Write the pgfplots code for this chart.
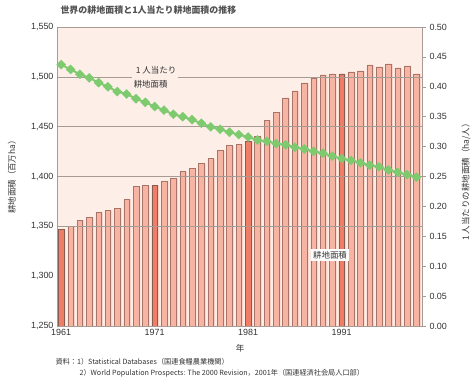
\documentclass[border=0pt]{standalone}
\usepackage{fontspec}
\setmainfont{Liberation Sans}
\newfontfamily\jp{Noto Sans CJK JP}
\usepackage{pgfplots}
\pgfplotsset{compat=1.18}
\definecolor{bgpink}{HTML}{FDEEE8}
\definecolor{barlight}{HTML}{F8B4A2}
\definecolor{barshadow}{HTML}{FAD3C8}
\definecolor{bardark}{HTML}{F07E66}
\definecolor{baredge}{HTML}{A87468}
\definecolor{gridc}{HTML}{A89A94}
\definecolor{linegreen}{HTML}{7DCB6E}
\definecolor{txt}{HTML}{333333}

\begin{document}
\begin{tikzpicture}
\path[use as bounding box] (0,0) rectangle (476bp,382bp);
\begin{axis}[
  at={(57bp,56bp)}, anchor=south west,
  scale only axis, width=365bp, height=299bp,
  xmin=1960.55, xmax=1999.6, ymin=1250, ymax=1550,
  axis background/.style={fill=bgpink},
  axis line style={gridc, line width=0.6pt},
  xtick={1961,1971,1981,1991},
  minor xtick={1962,1963,...,1999},
  xtick pos=bottom, ytick pos=left,
  tick align=inside,
  major tick length=4bp, minor tick length=3bp,
  every tick/.style={gridc},
  ytick={1250,1300,1350,1400,1450,1500,1550},
  ytick style={draw=none},
  /pgf/number format/assume math mode=true,
  xticklabel style={font=\fontsize{9}{10}\selectfont\color{txt}, /pgf/number format/1000 sep={}},
  yticklabel style={font=\fontsize{9}{10}\selectfont\color{txt}, /pgf/number format/1000 sep={,}},
]
% shadows
\addplot[ybar, bar width=5.6bp, bar shift=1.6bp, fill=barshadow, draw=none, forget plot] coordinates {
(1961,1347)(1962,1350)(1963,1356)(1964,1359)(1965,1364)(1966,1366)(1967,1368)(1968,1377)(1969,1390)(1970,1391)
(1971,1391)(1972,1395)(1973,1398)(1974,1405)(1975,1408)(1976,1413)(1977,1418)(1978,1426)(1979,1431)(1980,1432)
(1981,1435)(1982,1440)(1983,1456)(1984,1464)(1985,1479)(1986,1486)(1987,1494)(1988,1499)(1989,1502)(1990,1503)
(1991,1503)(1992,1505)(1993,1506)(1994,1512)(1995,1510)(1996,1513)(1997,1509)(1998,1511)(1999,1503)};
\addplot[ybar, bar width=5.6bp, bar shift=0pt, fill=barlight, draw=baredge, line width=0.5pt] coordinates {
(1962,1350)(1963,1356)(1964,1359)(1965,1364)(1966,1366)(1967,1368)(1968,1377)(1969,1390)(1970,1391)
(1972,1395)(1973,1398)(1974,1405)(1975,1408)(1976,1413)(1977,1418)(1978,1426)(1979,1431)(1980,1432)
(1982,1440)(1983,1456)(1984,1464)(1985,1479)(1986,1486)(1987,1494)(1988,1499)(1989,1502)(1990,1503)
(1992,1505)(1993,1506)(1994,1512)(1995,1510)(1996,1513)(1997,1509)(1998,1511)(1999,1503)};
\addplot[ybar, bar width=5.6bp, bar shift=0pt, fill=bardark, draw=baredge!80!black, line width=0.5pt] coordinates {
(1961,1347)(1971,1391)(1981,1435)(1991,1503)};
\draw[gridc, line width=0.6pt] (axis cs:1960.55,1500) -- (axis cs:1999.6,1500);
\draw[gridc, line width=0.6pt] (axis cs:1960.55,1450) -- (axis cs:1999.6,1450);
\draw[gridc, line width=0.6pt] (axis cs:1960.55,1400) -- (axis cs:1999.6,1400);
\draw[gridc, line width=0.6pt] (axis cs:1960.55,1350) -- (axis cs:1999.6,1350);
\end{axis}
\begin{axis}[
  at={(57bp,56bp)}, anchor=south west,
  scale only axis, width=365bp, height=299bp,
  xmin=1960.55, xmax=1999.6, ymin=0, ymax=0.5,
  axis x line=none, axis y line*=right,
  axis line style={gridc, line width=0.6pt},
  ytick={0,0.05,0.10,0.15,0.20,0.25,0.30,0.35,0.40,0.45,0.50},
  tick align=outside, major tick length=4bp,
  every tick/.style={gridc},
  /pgf/number format/assume math mode=true,
  yticklabel style={font=\fontsize{9}{10}\selectfont\color{txt}, /pgf/number format/.cd, fixed, fixed zerofill, precision=2},
]
\addplot[linegreen, line width=2pt, mark=square*, mark size=3.2bp, mark options={rotate=45, fill=linegreen, draw=linegreen, line width=0.4pt}] coordinates {
(1961,0.437)(1962,0.429)(1963,0.421)(1964,0.415)(1965,0.407)(1966,0.400)(1967,0.392)(1968,0.388)(1969,0.380)(1970,0.374)
(1971,0.367)(1972,0.361)(1973,0.354)(1974,0.350)(1975,0.345)(1976,0.339)(1977,0.333)(1978,0.329)(1979,0.324)(1980,0.320)
(1981,0.316)(1982,0.311)(1983,0.309)(1984,0.305)(1985,0.303)(1986,0.299)(1987,0.296)(1988,0.292)(1989,0.289)(1990,0.284)
(1991,0.280)(1992,0.277)(1993,0.273)(1994,0.269)(1995,0.266)(1996,0.261)(1997,0.257)(1998,0.253)(1999,0.249)};
\end{axis}
% annotations
\node[fill=bgpink, inner sep=2bp, align=left, font=\jp\fontsize{8.5}{14}\selectfont, text=txt] at (155bp,305bp) {\hspace{2bp}1 人当たり\\耕地面積};
\node[fill=white, inner sep=2.5bp, font=\jp\fontsize{8.5}{10}\selectfont, text=txt] at (330bp,127bp) {耕地面積};
% axis titles
\node[rotate=90, font=\jp\fontsize{8.5}{10}\selectfont, text=txt] at (12bp,207bp) {耕地面積（百万ha）};
\node[rotate=90, font=\jp\fontsize{8.5}{10}\selectfont, text=txt] at (466bp,202bp) {1 人当たりの耕地面積（ha/人）};
\node[font=\jp\fontsize{8.5}{10}\selectfont, text=txt] at (240bp,34bp) {年};
% title
\node[anchor=west, font=\jp\bfseries\fontsize{9}{11}\selectfont, text=txt!85!white] at (57bp,372bp) {世界の耕地面積と1人当たり耕地面積の推移};
% notes
\node[anchor=west, font=\jp\fontsize{7.2}{8}\selectfont, text=txt] at (52bp,20bp) {資料：1）Statistical Databases（国連食糧農業機関）};
\node[anchor=west, font=\jp\fontsize{7.2}{8}\selectfont, text=txt] at (76bp,9bp) {2）World Population Prospects: The 2000 Revision，2001年（国連経済社会局人口部）};
\end{tikzpicture}
\end{document}
